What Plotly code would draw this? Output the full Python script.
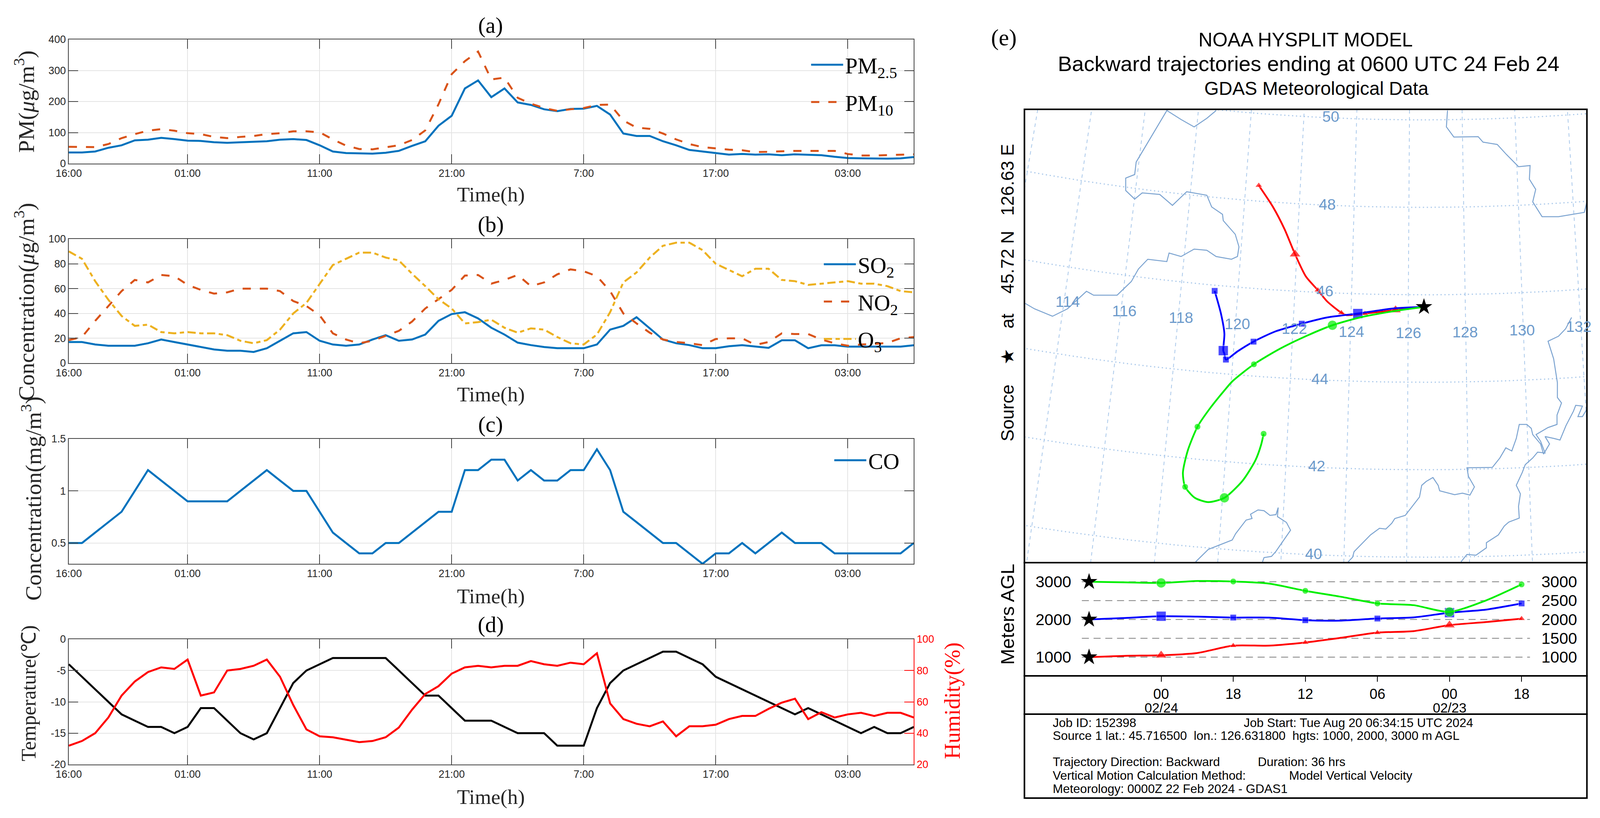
import numpy as np
import plotly.graph_objects as go

W, H = 4281, 2095
FS = 0.956  # the page comes out narrower than the reference, so text widths are trimmed
PAGE_W = 4096  # width the page really gets
BODY = 8  # default body margin

# hourly records, 16:00 on the first day onward
hours = list(range(65))
time_ticks = [0, 9, 19, 29, 39, 49, 59]
time_labels = ['16:00', '01:00', '11:00', '21:00', '7:00', '17:00', '03:00']

pm25 = [36, 36, 39, 51, 59, 75, 77, 83, 79, 74,
        73, 69, 67, 69, 70, 72, 77, 79, 76, 59,
        39, 34, 33, 32, 35, 41, 57, 72, 122, 154,
        242, 268, 214, 242, 197, 189, 175, 169, 176, 177,
        186, 158, 97, 89, 89, 72, 59, 44, 39, 34,
        29, 31, 29, 30, 27, 30, 29, 27, 22, 18,
        17, 16, 16, 17, 21]
pm10 = [54, 54, 53, 63, 82, 95, 106, 111, 106, 98,
        95, 86, 82, 86, 89, 95, 98, 104, 104, 101,
        78, 58, 47, 46, 52, 59, 76, 107, 191, 288,
        330, 361, 271, 277, 212, 193, 179, 170, 175, 179,
        189, 190, 139, 116, 112, 97, 78, 63, 53, 49,
        45, 43, 37, 38, 40, 41, 41, 41, 41, 31,
        26, 26, 27, 29, 30]
so2 = [17, 17, 15, 14, 14, 14, 16, 19, 17, 15,
       13, 11, 10, 10, 9, 12, 18, 24, 25, 18,
       15, 14, 15, 19, 22.5, 18, 19, 23, 34, 39.5,
       41, 36, 28.5, 23, 16.5, 14.5, 13, 12, 12, 12,
       15, 27, 30, 37, 28, 19, 16, 14.5, 12, 12,
       13.6, 14.5, 13.4, 12.3, 18.4, 18.4, 12, 14.4, 14.4, 13.3,
       13.3, 13.3, 13.3, 13.3, 14.4]
no2 = [18.5, 21, 34, 46, 58, 67, 65, 71, 70, 63,
       59, 56, 57, 60, 60, 60, 58, 50, 46, 38.5,
       24, 19, 16, 18, 22, 26, 33.5, 44, 51.5, 59,
       70.5, 71, 64, 67, 71, 62, 65, 71.5, 75.5, 74,
       70, 58, 40, 32, 24.5, 19, 17, 16, 14.5, 19.4,
       20, 20, 14.7, 17, 24, 23.4, 23.4, 19, 16, 14,
       15, 15.4, 16.3, 20, 21]
o3 = [90, 84, 66, 51, 38, 30, 31, 25, 24, 25,
      24, 24, 22.5, 18, 16, 18.5, 27, 40, 48.5, 64,
      79, 84, 89, 89, 85, 82.7, 72, 62, 51.5, 44,
      32, 33, 35, 28.5, 24.5, 28, 27, 21, 16, 15,
      23, 41, 65, 73, 85, 94.5, 97, 97, 91, 80,
      75, 70, 76, 76, 67, 66, 63, 64, 65, 66,
      64, 64, 62, 58, 57]
co = [.5, .5, .6, .7, .8, 1, 1.2, 1.1, 1, .9,
      .9, .9, .9, 1, 1.1, 1.2, 1.1, 1, 1, .8,
      .6, .5, .4, .4, .5, .5, .6, .7, .8, .8,
      1.2, 1.2, 1.3, 1.3, 1.1, 1.2, 1.1, 1.1, 1.2, 1.2,
      1.4, 1.2, .8, .7, .6, .5, .5, .4, .3, .4,
      .4, .5, .4, .5, .6, .5, .5, .5, .4, .4,
      .4, .4, .4, .4, .5]
temperature = [-4, -6, -8, -10, -12, -13, -14, -14, -15, -14,
               -11, -11, -13, -15, -16, -15, -11, -7, -5, -4,
               -3, -3, -3, -3, -3, -5, -7, -9, -9, -11,
               -13, -13, -13, -14, -15, -15, -15, -17, -17, -17,
               -11, -7, -5, -4, -3, -2, -2, -3, -4, -6,
               -7, -8, -9, -10, -11, -12, -11, -12, -13, -14,
               -15, -14, -15, -15, -14]
humidity = [32, 35, 40, 50, 64, 73, 79, 82, 81, 87,
            64, 66, 80, 81, 83, 87, 76, 58, 42.4, 38,
            37.4, 36, 34.3, 35, 37.4, 43.6, 55, 65, 70, 78,
            82, 83, 82, 83, 83, 86, 84, 83, 85, 84,
            91, 59, 49, 46, 44.4, 47.5, 38, 44.4, 44.4, 45.4,
            49, 51, 51, 55.5, 59.5, 62, 49, 53.4, 50, 52,
            53, 51, 53, 53, 50]

# trajectories on the map, km east / km north of the source
red_x = [0, -76, -158, -208, -221, -259, -284, -316, -345, -373, -404, -442]
red_y = [0, -8, -17, -21, -15, 14, 43, 78, 135, 199, 256, 311]
red_marks = [1, 2, 4, 6, 8, 11]
blue_x = [0, -82, -177, -259, -327, -398, -456, -499, -530, -534, -537, -534, -543, -560]
blue_y = [0, -4, -17, -27, -43, -63, -89, -114, -135, -120, -112, -69, -18, 41]
blue_marks = [2, 4, 6, 8, 10, 13]
green_x = [0, -82, -171, -245, -309, -385, -455, -512, -534, -575, -606,
           -632, -645, -639, -613, -577, -534, -486, -451, -436, -429]
green_y = [0, -11, -27, -47, -72, -107, -147, -190, -214, -263, -307,
           -368, -425, -461, -489, -500, -489, -446, -393, -354, -325]
green_marks = [3, 6, 10, 13, 16, 20]

# border and coast lines on the same km grid
north_x = [-556, -581, -615, -650, -688, -770, -774, -798, -798, -774, -754, -707, -673, -635, -581,
           -568, -539, -537, -505, -495, -499, -515, -556, -581, -615, -650, -682, -688, -739,
           -764, -783, -821, -884, -903, -954, -994, -1042, -1067]
north_y = [503, 483, 461, 480, 503, 371, 339, 330, 298, 276, 292, 288, 260, 295, 286,
           256, 237, 221, 186, 154, 129, 122, 129, 145, 148, 129, 138, 116, 122,
           97, 65, 30, 30, 40, -5, -24, -5, 9]
east_x = [63, 60, 80, 145, 158, 196, 221, 253, 284, 282, 299, 291, 316, 360, 429, 436]
east_y = [503, 461, 435, 436, 422, 416, 390, 359, 362, 327, 301, 269, 231, 231, 242, 269]
far_x = [395, 379, 360, 332, 347, 357, 357, 368, 356, 356, 332, 300, 312, 324, 304, 291, 271,
         263, 247, 258, 253, 255, 227, 215, 199, 167, 167, 139, 115, 99]
far_y = [-27, -56, -75, -88, -133, -194, -232, -246, -277, -301, -309, -327, -344, -374, -372,
         -387, -404, -424, -457, -479, -511, -541, -551, -561, -584, -604, -617, -636, -634, -653]
mid_x = [-203, -191, -187, -143, -119, -102, -86, -78, -50, -12, -6, 6, 24, 38, 42, 82, 103, 123,
         135, 119, 115, 183, 203, 219, 235, 247, 255, 275, 287, 291, 312, 320, 336, 324, 348, 364,
         380, 400, 406, 424, 412, 424, 436]
mid_y = [-653, -641, -627, -584, -567, -569, -554, -542, -534, -487, -457, -447, -437, -457, -471,
         -481, -477, -482, -461, -434, -412, -411, -387, -361, -369, -337, -301, -301, -311, -327,
         -351, -377, -351, -332, -337, -341, -304, -267, -252, -254, -281, -281, -262]
bay_x = [-611, -577, -513, -504, -476, -460, -464, -444, -428, -412, -396, -390, -392, -368, -357,
         -396, -408, -428, -432]
bay_y = [-653, -621, -597, -581, -546, -542, -531, -520, -522, -534, -532, -514, -537, -552, -572,
         -626, -639, -642, -653]

grid_lons = list(range(110, 140, 2))
grid_lats = list(range(38, 54, 2))
lon_labels = ['114', '116', '118', '120', '122', '124', '126', '128', '130', '132']
lon_label_x = [-954, -802, -650, -499, -347, -194, -42, 110, 263, 414]
lon_label_y = [14, -10, -27, -43, -55, -63, -66, -64, -59, -50]
lat_labels = ['50', '48', '46', '44', '42', '40']
lat_label_x = [-249, -259, -265, -278, -287, -295]
lat_label_y = [488, 263, 41, -184, -407, -632]

# height panel, every 3 h back from the source
traj_hours = [0, 3, 6, 9, 12, 15, 18, 21, 24, 27, 30, 33, 36]
red_agl = [1000, 1035, 1050, 1110, 1305, 1305, 1390, 1515, 1650, 1690, 1850, 1930, 2020]
blue_agl = [2000, 2040, 2085, 2075, 2050, 2050, 1980, 1970, 2025, 2055, 2180, 2260, 2425]
green_agl = [3000, 2985, 2970, 3020, 3007, 2950, 2760, 2600, 2425, 2380, 2200, 2500, 2930]
agl_levels = [1000, 1500, 2000, 2500, 3000]
agl_ticks = [6, 12, 18, 24, 30, 36]
agl_ticklabels = ['00', '18', '12', '06', '00', '18']

info_lines = [
    ('Job ID: 152398', 2815, 1851),
    ('Job Start: Tue Aug 20 06:34:15 UTC 2024', 3326, 1851),
    ('Source 1 lat.: 45.716500&nbsp;&nbsp;lon.: 126.631800&nbsp;&nbsp;hgts: 1000, 2000, 3000 m AGL', 2815, 1884),
    ('Trajectory Direction: Backward', 2815, 1951),
    ('Duration: 36 hrs', 3363, 1951),
    ('Vertical Motion Calculation Method:', 2815, 1986),
    ('Model Vertical Velocity', 3447, 1986),
    ('Meteorology: 0000Z 22 Feb 2024 - GDAS1', 2815, 2020),
]

BLUE, ORANGE, YELLOW = '#0072BD', '#D95319', '#EDB120'
SERIF, SANS = 'Liberation Serif', 'Liberation Sans'
MAP_TEXT = '#6c9acb'
COAST = '#7ba3d0'
GRID = '#a9c8ea'
LONG_DASH = '21px,23px'
DASH_DOT = '21px,9px,11px,9px'


def px_x(x):
    return (x * PAGE_W / W - BODY) / (PAGE_W - 2 * BODY)


def px_y(y):
    return 1 - (y - BODY) / (H - 2 * BODY)


def conic(lon, lat):
    # fitted to the printed graticule, km from the source
    r = 6400 + 112 * (46 - np.asarray(lat, dtype=float))
    t = 0.68 * np.radians(np.asarray(lon, dtype=float) - 126.55)
    return r * np.sin(t), 6431 - r * np.cos(t)


fig = go.Figure()


def line(x, y, ax, color, name=None, dash=None, legend=None, width=5):
    fig.add_trace(go.Scatter(x=x, y=y, mode='lines', xaxis='x' + ax[0], yaxis='y' + ax[1],
                             name=name, showlegend=legend is not None, legend=legend,
                             legendgroup=name if legend else None,
                             line=dict(color=color, width=width, dash=dash)))


line(hours, pm25, ('', ''), BLUE, 'PM<sub>2.5</sub>', legend='legend')
line(hours, pm10, ('', ''), ORANGE, 'PM<sub>10</sub>', dash=LONG_DASH, legend='legend')
line(hours, so2, ('2', '2'), BLUE, 'SO<sub>2</sub>', legend='legend2')
line(hours, no2, ('2', '2'), ORANGE, 'NO<sub>2</sub>', dash=LONG_DASH, legend='legend2')
line(hours, o3, ('2', '2'), YELLOW, 'O<sub>3</sub>', dash=DASH_DOT, legend='legend2')
line(hours, co, ('3', '3'), BLUE, 'CO', legend='legend3')
line(hours, temperature, ('4', '4'), 'black')
line(hours, humidity, ('4', '5'), '#ff0000')

# map: graticule, coast, trajectories
for lon in grid_lons:
    lat_run = np.linspace(36, 54, 40)
    gx, gy = conic(np.full(40, lon), lat_run)
    line(gx, gy, ('6', '6'), GRID, dash='9px,9px', width=2)
for lat in grid_lats:
    lon_run = np.linspace(105, 145, 60)
    gx, gy = conic(lon_run, np.full(60, lat))
    line(gx, gy, ('6', '6'), GRID, dash='3px,7px', width=3)
for cx, cy in [(north_x, north_y), (east_x, east_y), (far_x, far_y), (mid_x, mid_y), (bay_x, bay_y)]:
    line(cx, cy, ('6', '6'), COAST, width=2.5)


def trajectory(x, y, marks, big, color, symbol, ax):
    fig.add_trace(go.Scatter(x=x, y=y, mode='lines', xaxis='x' + ax, yaxis='y' + ax, showlegend=False,
                             line=dict(color=color, width=4.5, shape='spline', smoothing=0.7)))
    sizes = [25 if i in big else 16 for i in marks]
    fig.add_trace(go.Scatter(x=[x[i] for i in marks], y=[y[i] for i in marks], mode='markers',
                             xaxis='x' + ax, yaxis='y' + ax, showlegend=False,
                             marker=dict(color=color, symbol=symbol, size=sizes)))


trajectory(red_x, red_y, red_marks, (1, 8), '#ff0000', 'triangle-up', '6')
trajectory(blue_x, blue_y, blue_marks, (2, 10), '#0000ff', 'square', '6')
trajectory(green_x, green_y, green_marks, (3, 16), '#00ee00', 'circle', '6')
fig.add_trace(go.Scatter(x=[0], y=[0], mode='markers', xaxis='x6', yaxis='y6', showlegend=False,
                         marker=dict(color='black', symbol='star', size=32)))

# height panel
for level in agl_levels:
    line([-0.6, 36.7], [level, level], ('7', '7'), '#808080', dash='18px,12px', width=2)
agl_idx = [2, 4, 6, 8, 10, 12]
trajectory(traj_hours, red_agl, agl_idx, (2, 10), '#ff0000', 'triangle-up', '7')
trajectory(traj_hours, blue_agl, agl_idx, (2, 10), '#0000ff', 'square', '7')
trajectory(traj_hours, green_agl, agl_idx, (2, 10), '#00ee00', 'circle', '7')
fig.add_trace(go.Scatter(x=[0, 0, 0], y=[1000, 2000, 3000], mode='markers', xaxis='x7', yaxis='y7',
                         showlegend=False, marker=dict(color='black', symbol='star', size=32)))

annotations = []


def note(text, x, y, size, family=SERIF, color='black', angle=0, xanchor='center'):
    # upright text is trimmed to keep its width, rotated text runs along the full page height
    annotations.append(dict(text=text, x=px_x(x), y=px_y(y), xref='paper', yref='paper', showarrow=False,
                            xanchor=xanchor, yanchor='middle', textangle=angle,
                            font=dict(family=family, size=size if angle else size * FS, color=color)))


for t, y in [('(a)', 65), ('(b)', 575), ('(c)', 1087), ('(d)', 1600)]:
    note(t, 1313, y, 60)
for y in [498, 1010, 1527, 2041]:
    note('Time(h)', 1313, y, 56, color='#262626')
note('PM(<i>μ</i>g/m<sup>3</sup>)', 65, 260, 58, color='#262626', angle=-90)
note('Concentration(<i>μ</i>g/m<sup>3</sup>)', 65, 773, 58, color='#262626', angle=-90)
note('Concentration(mg/m<sup>3</sup>)', 84, 1277, 58, color='#262626', angle=-90)
note('Temperature(℃)', 77, 1775, 52, color='#262626', angle=-90)
note('Humidity(%)', 2548, 1794, 56, color='#ff0000', angle=-90)

note('(e)', 2686, 96, 62)
note('NOAA HYSPLIT MODEL', 3493, 102, 52, SANS)
note('Backward trajectories ending at 0600 UTC 24 Feb 24', 3501, 163, 57, SANS)
note('GDAS Meteorological Data', 3522, 226, 50, SANS)
note('Source&nbsp;&nbsp;&nbsp;&nbsp;★&nbsp;&nbsp;&nbsp;&nbsp;at&nbsp;&nbsp;&nbsp;&nbsp;45.72&nbsp;N&nbsp;&nbsp;&nbsp;126.63&nbsp;E', 2695, 750, 46, SANS, angle=-90)
note('Meters AGL', 2695, 1573, 49, SANS, angle=-90)
note('02/24', 3107, 1813, 36, SANS)
note('02/23', 3879, 1813, 36, SANS)
for text, x, y in info_lines:
    note(text, x, y, 33, SANS, xanchor='left')

for label, x, y in zip(lon_labels + lat_labels, lon_label_x + lat_label_x, lon_label_y + lat_label_y):
    annotations.append(dict(text=label, x=x, y=y, xref='x6', yref='y6', showarrow=False,
                            font=dict(family=SANS, size=41 * FS, color=MAP_TEXT)))
for level in [1000, 2000, 3000]:
    annotations.append(dict(text=str(level), x=-1.43, y=level, xref='x7', yref='y7', showarrow=False,
                            xanchor='right', font=dict(family=SANS, size=43 * FS, color='black')))
for level in agl_levels:
    annotations.append(dict(text=str(level), x=37.6, y=level, xref='x7', yref='y7', showarrow=False,
                            xanchor='left', font=dict(family=SANS, size=43 * FS, color='black')))

shapes = [dict(type='rect', xref='paper', yref='paper', x0=px_x(2741), x1=px_x(4246), y0=px_y(y1), y1=px_y(y0),
               line=dict(color='black', width=4), fillcolor='rgba(0,0,0,0)')
          for y0, y1 in [(280, 1441), (1441, 1731), (1731, 1829), (1829, 2044)]]


def time_axis(anchor):
    return dict(domain=[px_x(184), px_x(2445)], anchor=anchor, range=[0, 64], tickmode='array',
                tickvals=time_ticks, ticktext=time_labels, ticks='inside', ticklen=24, tickwidth=2,
                tickcolor='#404040', showline=True, linecolor='#404040', linewidth=2, mirror='ticks',
                showgrid=True, gridcolor='#e4e4e4', gridwidth=2, zeroline=False,
                tickfont=dict(family=SANS, size=28 * FS, color='#262626'))


def value_axis(top, bottom, anchor, rng, ticks, labels=None, mirror='ticks'):
    return dict(domain=[px_y(bottom), px_y(top)], anchor=anchor, range=rng, tickmode='array', tickvals=ticks,
                ticktext=labels if labels else [str(t) for t in ticks], ticks='inside', ticklen=24, tickwidth=2,
                tickcolor='#404040', showline=True, linecolor='#404040', linewidth=2, mirror=mirror,
                showgrid=True, gridcolor='#e4e4e4', gridwidth=2, zeroline=False,
                tickfont=dict(family=SANS, size=28 * FS, color='#262626'))


hidden = dict(showgrid=False, zeroline=False, showticklabels=False, ticks='', showline=False)


def side_legend(x, y):
    return dict(x=px_x(x), y=px_y(y), xanchor='left', yanchor='top', bgcolor='rgba(0,0,0,0)', itemwidth=82,
                font=dict(family=SERIF, size=60 * FS, color='black'), tracegroupgap=18)


fig.update_layout(
    margin=dict(l=0, r=0, t=0, b=0, pad=0, autoexpand=False), paper_bgcolor='white', plot_bgcolor='rgba(0,0,0,0)',
    xaxis=time_axis('y'),
    yaxis=value_axis(101, 419, 'x', [0, 400], [0, 100, 200, 300, 400]),
    xaxis2=time_axis('y2'),
    yaxis2=value_axis(612, 930, 'x2', [0, 100], [0, 20, 40, 60, 80, 100]),
    xaxis3=time_axis('y3'),
    yaxis3=value_axis(1124, 1444, 'x3', [0.3, 1.5], [0.5, 1, 1.5], ['0.5', '1', '1.5']),
    xaxis4=time_axis('y4'),
    yaxis4=value_axis(1637, 1958, 'x4', [-20, 0], [-20, -15, -10, -5, 0], mirror=False),
    yaxis5=dict(domain=[px_y(1958), px_y(1637)], anchor='x4', overlaying='y4', side='right', range=[20, 100],
                tickmode='array', tickvals=[20, 40, 60, 80, 100], ticks='inside', ticklen=24, tickwidth=2,
                tickcolor='#ff0000', showline=True, linecolor='#ff0000', linewidth=2, showgrid=False,
                zeroline=False, tickfont=dict(family=SANS, size=28 * FS, color='#ff0000')),
    xaxis6=dict(domain=[px_x(2741), px_x(4246)], anchor='y6', range=[-1069, 436], **hidden),
    yaxis6=dict(domain=[px_y(1441), px_y(280)], anchor='x6', range=[-655, 506], **hidden),
    xaxis7=dict(domain=[px_x(2741), px_x(4246)], anchor='y7', range=[-5.38, 41.44], showgrid=False, zeroline=False,
                showline=False, tickmode='array', tickvals=agl_ticks, ticktext=agl_ticklabels, ticks='outside',
                ticklen=14, tickwidth=2, tickcolor='black', tickfont=dict(family=SANS, size=38 * FS, color='black')),
    yaxis7=dict(domain=[px_y(1731), px_y(1441)], anchor='x7', range=[503, 3508], **hidden),
    legend=side_legend(2165, 122),
    legend2=side_legend(2199, 633),
    legend3=side_legend(2227, 1135),
    annotations=annotations,
    shapes=shapes,
)

fig.write_html("out.html")
